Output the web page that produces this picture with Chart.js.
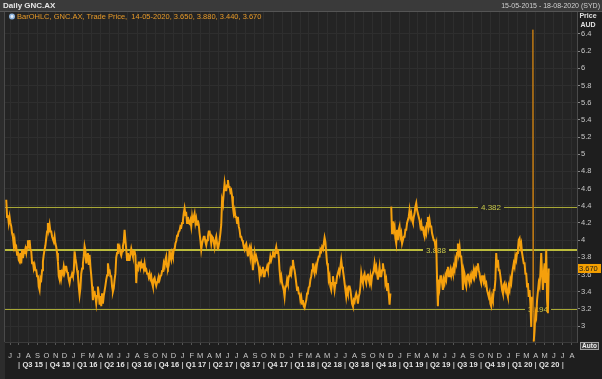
<!DOCTYPE html>
<html>
<head>
<meta charset="utf-8">
<script src="https://cdn.jsdelivr.net/npm/chart.js@4.4.1/dist/chart.umd.min.js"></script>
<style>
  html, body { margin: 0; padding: 0; background: #1e1e1e; }
  canvas { display: block; }
</style>
</head>
<body>
<canvas id="priceChart" width="602" height="379"></canvas>
<script>
// GNC.AX daily bars: one low/high range every 4th session
// (15-05-2015 .. 14-05-2020)
const lows = [
  4.27,4.20,4.20,4.08,3.94,3.90,3.83,3.77,3.75,3.73,
  3.79,3.85,3.85,3.90,3.89,3.73,3.67,3.65,3.58,3.46,
  3.42,3.54,3.75,3.89,4.02,4.12,4.10,4.04,3.98,3.96,
  3.85,3.58,3.54,3.56,3.61,3.63,3.63,3.54,3.50,3.57,
  3.58,3.79,3.65,3.46,3.36,3.61,3.73,3.88,3.73,3.71,
  3.69,3.46,3.30,3.34,3.26,3.38,3.25,3.23,3.26,3.41,
  3.54,3.65,3.58,3.46,3.40,3.54,3.80,3.89,3.85,3.82,
  3.93,4.00,3.77,3.77,3.77,3.85,3.81,3.82,3.50,3.67,
  3.68,3.68,3.67,3.65,3.61,3.57,3.55,3.50,3.46,3.51,
  3.47,3.54,3.54,3.59,3.65,3.69,3.69,3.67,3.81,3.77,
  3.81,3.89,3.99,4.06,4.11,4.15,4.23,4.30,4.20,4.20,
  4.19,4.16,
  4.20,4.20,4.18,4.18,4.00,3.89,3.96,3.98,3.94,4.04,
  4.04,3.96,3.98,3.92,3.96,3.89,4.00,4.18,4.43,4.58,
  4.58,4.62,4.56,4.51,4.31,4.27,4.20,4.16,4.04,4.00,
  3.92,3.89,3.89,3.81,3.81,3.81,3.65,3.77,3.77,3.69,
  3.58,3.61,3.58,3.58,3.65,3.65,3.73,3.77,3.82,3.81,
  3.85,3.81,3.54,3.50,3.42,3.34,3.46,3.50,3.58,3.61,
  3.69,3.58,3.42,3.38,3.30,3.26,3.23,3.21,3.30,3.39,
  3.46,3.58,3.65,3.61,3.65,3.73,3.81,3.87,3.90,3.98,
  3.73,3.54,3.46,3.42,3.50,3.42,3.50,3.58,3.61,3.69,
  3.58,3.42,3.34,3.38,3.42,3.26,3.23,3.28,3.34,3.26,
  3.38,3.54,3.50,3.54,3.50,3.54,3.50,3.50,3.58,3.65,
  3.61,3.54,3.58,3.58,3.65,3.50,3.42,3.38,
  3.25,4.08,4.12,4.02,3.96,4.00,4.04,3.96,3.96,4.04,
  4.12,4.20,4.27,4.23,4.20,4.31,4.35,4.27,4.16,4.12,
  4.08,4.04,4.08,4.16,4.16,4.08,4.00,3.92,3.54,3.23,
  3.46,3.50,3.42,3.50,3.54,3.58,3.58,3.59,3.61,3.65,
  3.73,3.85,3.81,3.69,3.42,3.50,3.46,3.54,3.50,3.54,
  3.58,3.58,3.61,3.65,3.54,3.50,3.52,3.48,3.42,3.34,
  3.26,3.23,3.30,3.42,3.69,3.65,3.58,3.42,3.38,3.42,
  3.38,3.34,3.42,3.50,3.61,3.69,3.77,3.89,3.92,3.85,
  3.73,3.61,3.46,3.34,3.26,2.99,2.82,2.95,3.11,3.30,
  3.46,3.61,3.42,3.50,3.30,3.15
];
const highs = [
  4.47,4.29,4.27,4.16,4.04,4.00,3.92,3.87,3.85,3.89,
  3.85,3.90,3.92,4.00,4.00,3.87,3.75,3.71,3.65,3.59,
  3.56,3.65,3.83,3.94,4.10,4.20,4.18,4.10,4.04,4.04,
  3.92,3.75,3.65,3.63,3.69,3.69,3.69,3.61,3.56,3.61,
  3.63,3.87,3.73,3.59,3.44,3.67,3.81,3.93,3.83,3.85,
  3.83,3.59,3.40,3.40,3.35,3.46,3.35,3.38,3.35,3.47,
  3.59,3.73,3.65,3.58,3.44,3.61,3.85,3.96,3.92,3.87,
  3.98,4.12,3.89,3.85,3.84,3.90,3.87,3.87,3.69,3.74,
  3.74,3.73,3.73,3.73,3.66,3.62,3.61,3.58,3.54,3.56,
  3.51,3.58,3.58,3.64,3.73,3.77,3.81,3.71,3.89,3.85,
  3.89,3.96,4.05,4.10,4.16,4.20,4.31,4.37,4.31,4.27,
  4.23,4.27,
  4.27,4.31,4.25,4.23,4.08,3.96,4.04,4.04,4.00,4.10,
  4.10,4.04,4.02,4.00,4.04,3.94,4.08,4.47,4.55,4.66,
  4.64,4.70,4.62,4.58,4.39,4.35,4.27,4.27,4.12,4.04,
  3.98,3.94,3.96,3.89,3.92,3.89,3.77,3.85,3.81,3.77,
  3.65,3.65,3.69,3.65,3.69,3.73,3.81,3.81,3.87,3.87,
  3.92,3.89,3.65,3.58,3.50,3.46,3.54,3.58,3.65,3.69,
  3.77,3.65,3.50,3.46,3.38,3.34,3.30,3.26,3.38,3.45,
  3.54,3.65,3.73,3.69,3.73,3.81,3.89,3.92,3.96,4.03,
  3.85,3.69,3.58,3.50,3.58,3.50,3.58,3.65,3.69,3.77,
  3.65,3.50,3.42,3.46,3.46,3.34,3.30,3.34,3.38,3.34,
  3.46,3.61,3.58,3.61,3.58,3.61,3.58,3.58,3.65,3.73,
  3.69,3.61,3.69,3.65,3.73,3.65,3.54,3.50,
  3.38,4.39,4.22,4.16,4.12,4.12,4.16,4.08,4.04,4.12,
  4.20,4.27,4.35,4.31,4.27,4.39,4.43,4.35,4.23,4.20,
  4.16,4.12,4.20,4.27,4.23,4.16,4.08,4.00,3.96,3.54,
  3.58,3.58,3.54,3.58,3.65,3.69,3.65,3.65,3.69,3.77,
  3.85,3.96,3.92,3.81,3.65,3.61,3.58,3.61,3.58,3.61,
  3.65,3.65,3.69,3.73,3.61,3.58,3.59,3.56,3.50,3.42,
  3.38,3.34,3.42,3.54,3.85,3.77,3.65,3.50,3.48,3.50,
  3.46,3.46,3.54,3.61,3.73,3.81,3.85,4.00,4.02,3.96,
  3.85,3.73,3.61,3.50,3.42,3.34,6.45,3.15,3.30,3.50,
  3.61,3.85,3.61,3.73,3.89,3.67
];
// sample index where the series restarts after a break (late 2018)
const breakAt = [231];

// horizontal level lines and their labels
const levels = [4.382, 3.888, 3.194];
const levelLabels = ["4.382", "3.888", "3.194"];

// price axis ticks
const yTicks = [3, 3.2, 3.4, 3.6, 3.8, 4, 4.2, 4.4, 4.6, 4.8, 5, 5.2, 5.4, 5.6, 5.8, 6, 6.2, 6.4];
const lastClose = 3.670;
const legendText = "BarOHLC, GNC.AX, Trade Price,  14-05-2020, 3.650, 3.880, 3.440, 3.670";

const monthLetters = ["J", "F", "M", "A", "M", "J", "J", "A", "S", "O", "N", "D"];
const startDate = Date.UTC(2015, 4, 15);
const endDate = Date.UTC(2020, 7, 18);
const DAY = 86400000;

function dayOf(y, m, d) {
  return (Date.UTC(y, m, d) - startDate) / DAY;
}

// every 4th session is about 5.6 calendar days apart
function sampleDay(i) {
  return 5.6 * (i + 1);
}

// trace each low/high range as a short up or down stroke, like the dense bars
const tracePoints = [];
lows.forEach((lo, i) => {
  const hi = highs[i];
  const next = i + 1 < lows.length ? (lows[i + 1] + highs[i + 1]) / 2 : (lo + hi) / 2;
  const up = next >= (lo + hi) / 2;
  const d = sampleDay(i);
  if (breakAt.includes(i)) tracePoints.push({ x: d - 2.8, y: null });
  tracePoints.push({ x: d - 1.4, y: up ? lo : hi });
  tracePoints.push({ x: d + 1.4, y: up ? hi : lo });
});

// month ticks Jun 2015 .. Aug 2020
const monthTicks = [];
for (let y = 2015, m = 5; ; m++) {
  if (m > 11) { m = 0; y++; }
  if (y === 2020 && m > 7) break;
  monthTicks.push({ day: dayOf(y, m, 1), letter: monthLetters[m] });
}

// quarter labels Q3 15 .. Q2 20
const quarters = [];
for (let y = 2015, q = 2; ; q++) {
  if (q > 3) { q = 0; y++; }
  if (y === 2020 && q > 1) break;
  quarters.push({
    start: dayOf(y, q * 3, 1),
    end: dayOf(q === 3 ? y + 1 : y, q === 3 ? 0 : q * 3 + 3, 1),
    label: "Q" + (q + 1) + " " + String(y).slice(2)
  });
}

const FONT = "'Liberation Sans', Arial, sans-serif";

const backdrop = {
  id: "backdrop",
  beforeDraw(chart) {
    const { ctx, chartArea: a } = chart;
    ctx.save();
    ctx.fillStyle = "#1e1e1e";
    ctx.fillRect(0, 0, chart.width, chart.height);
    // header bar
    ctx.fillStyle = "#3a3a3a";
    ctx.fillRect(0, 0, chart.width, 11);
    ctx.fillStyle = "#555";
    ctx.fillRect(0, 11, chart.width, 1);
    // plot area
    ctx.fillStyle = "#242424";
    ctx.fillRect(a.left, a.top, a.right - a.left, a.bottom - a.top);
    ctx.fillStyle = "#2c2c2c";
    ctx.fillRect(0, 12, a.left, chart.height - 12);
    ctx.fillStyle = "#4a4a4a";
    ctx.fillRect(a.left - 1, a.top, 1, a.bottom - a.top);
    ctx.restore();
  }
};

const levelLines = {
  id: "levelLines",
  beforeDatasetsDraw(chart) {
    const { ctx, chartArea: a, scales } = chart;
    const labelX = [491, 436, 538];
    const widths = [1, 2, 1];
    ctx.save();
    ctx.font = "8px " + FONT;
    ctx.textAlign = "center";
    ctx.textBaseline = "middle";
    levels.forEach((v, i) => {
      const y = Math.round(scales.y.getPixelForValue(v)) + (widths[i] === 1 ? 0.5 : 0);
      ctx.strokeStyle = i === 1 ? "#bcbc3c" : "#a8a836";
      ctx.lineWidth = widths[i];
      ctx.beginPath();
      ctx.moveTo(a.left, y);
      ctx.lineTo(a.right, y);
      ctx.stroke();
      const w = ctx.measureText(levelLabels[i]).width + 6;
      ctx.fillStyle = "#242424";
      ctx.fillRect(labelX[i] - w / 2, y - 4, w, 8);
      ctx.fillStyle = "#c8c84a";
      ctx.fillText(levelLabels[i], labelX[i], y + 0.5);
    });
    ctx.restore();
  }
};

const overlay = {
  id: "overlay",
  afterDraw(chart) {
    const { ctx, scales } = chart;
    ctx.save();
    ctx.textBaseline = "middle";
    // header
    ctx.font = "bold 8px " + FONT;
    ctx.fillStyle = "#e6e6e6";
    ctx.textAlign = "left";
    ctx.fillText("Daily GNC.AX", 3, 6);
    ctx.font = "7px " + FONT;
    ctx.fillStyle = "#cfcfcf";
    ctx.textAlign = "right";
    ctx.fillText("15-05-2015 - 18-08-2020 (SYD)", 600, 6);
    // legend
    ctx.fillStyle = "#8fb4dc";
    ctx.beginPath();
    ctx.arc(12, 16.5, 3, 0, Math.PI * 2);
    ctx.fill();
    ctx.fillStyle = "#e8eef6";
    ctx.beginPath();
    ctx.arc(12, 16.5, 1.4, 0, Math.PI * 2);
    ctx.fill();
    ctx.font = "7.5px " + FONT;
    ctx.fillStyle = "#e89a28";
    ctx.textAlign = "left";
    ctx.fillText(legendText, 17, 16.5);
    // axis header
    ctx.font = "bold 7px " + FONT;
    ctx.fillStyle = "#e0e0e0";
    ctx.textAlign = "center";
    ctx.fillText("Price", 588, 16.5);
    ctx.fillText("AUD", 588, 25);
    // last price tag
    const yl = scales.y.getPixelForValue(lastClose);
    ctx.fillStyle = "#f5a000";
    ctx.fillRect(578, yl - 4.5, 23, 9);
    ctx.font = "7.5px " + FONT;
    ctx.fillStyle = "#1a1a1a";
    ctx.textAlign = "left";
    ctx.fillText(lastClose.toFixed(3), 579, yl + 0.5);
    // quarter row
    ctx.font = "bold 7.5px " + FONT;
    ctx.textAlign = "center";
    quarters.forEach(q => {
      const x0 = scales.x.getPixelForValue(q.start);
      const x1 = scales.x.getPixelForValue(q.end);
      ctx.fillStyle = "#bdbdbd";
      ctx.fillText("|", x0, 364.5);
      ctx.fillStyle = "#e4e4e4";
      ctx.fillText(q.label, (x0 + x1) / 2, 364.5);
    });
    const xe = scales.x.getPixelForValue(quarters[quarters.length - 1].end);
    ctx.fillStyle = "#bdbdbd";
    ctx.fillText("|", xe, 364.5);
    // auto button
    ctx.fillStyle = "#3c3c3c";
    ctx.fillRect(580, 342, 19, 8);
    ctx.strokeStyle = "#a0a0a0";
    ctx.lineWidth = 1;
    ctx.strokeRect(580.5, 342.5, 18, 7);
    ctx.font = "bold 6.5px " + FONT;
    ctx.fillStyle = "#f0f0f0";
    ctx.fillText("Auto", 589.5, 346.5);
    ctx.restore();
  }
};

const spike = c => c.p0.parsed.y > 5 || c.p1.parsed.y > 5;

const ctx = document.getElementById("priceChart").getContext("2d");
const priceChart = new Chart(ctx, {
  type: "line",
  data: {
    datasets: [
      {
        label: "GNC.AX",
        data: tracePoints,
        borderColor: "#f5a00c",
        borderWidth: 2,
        pointRadius: 0,
        tension: 0,
        spanGaps: false,
        borderJoinStyle: "miter",
        segment: {
          borderColor: c => (spike(c) ? "#c07a14" : undefined),
          borderWidth: c => (spike(c) ? 1 : undefined)
        }
      }
    ]
  },
  options: {
    responsive: false,
    animation: false,
    devicePixelRatio: 1,
    layout: { padding: { left: 5, top: 12, right: 0, bottom: 0 } },
    plugins: {
      legend: { display: false },
      tooltip: { enabled: false }
    },
    scales: {
      x: {
        type: "linear",
        min: 0,
        max: (endDate - startDate) / DAY,
        afterBuildTicks: s => { s.ticks = monthTicks.map(t => ({ value: t.day })); },
        afterFit: s => { s.height = 37; },
        grid: { color: "#2e2e2e", tickLength: 3, tickColor: "#555" },
        border: { color: "#3a3a3a" },
        ticks: {
          color: "#c8c8c8",
          font: { size: 7.5, family: FONT },
          padding: 6,
          maxRotation: 0,
          autoSkip: false,
          callback: (v, i) => monthTicks[i].letter
        }
      },
      y: {
        position: "right",
        min: 2.814,
        max: 6.656,
        afterBuildTicks: s => { s.ticks = yTicks.map(v => ({ value: v })); },
        afterFit: s => { s.width = 25; },
        grid: { color: "#2e2e2e", tickLength: 3, tickColor: "#888" },
        border: { color: "#4a4a4a" },
        ticks: {
          color: "#c8c8c8",
          font: { size: 7.5, family: FONT },
          padding: 1,
          callback: v => String(+v.toFixed(1))
        }
      }
    }
  },
  plugins: [backdrop, levelLines, overlay]
});
</script>
</body>
</html>
